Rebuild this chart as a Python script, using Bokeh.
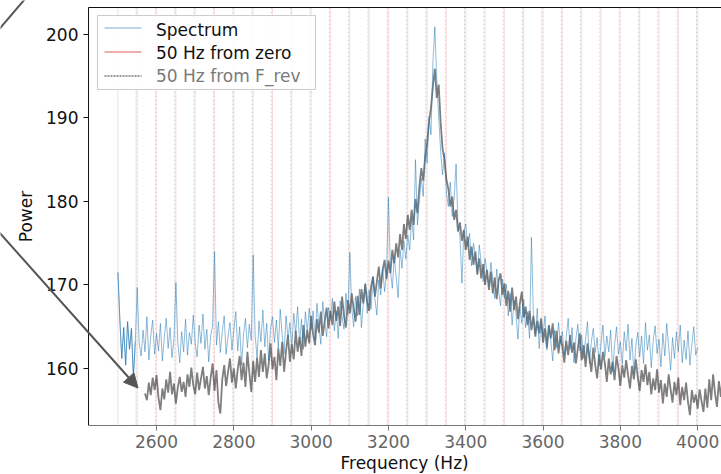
from bokeh.plotting import figure
from bokeh.models import (Range1d, LinearAxis, FixedTicker, Arrow, NormalHead,
                          Legend, LegendItem, Title)
from bokeh.embed import file_html
from bokeh.resources import INLINE

FONT = "DejaVu Sans"

# ---------------- data ----------------
spec_f0, spec_df = 2500, 5
spectrum = [
    171.5, 165.8, 161.2, 164.9, 160.4, 165.6, 162.3, 164.8, 159.0, 163.2,
    169.7, 163.0, 161.5, 164.6, 162.0, 166.2, 161.0, 163.9, 165.8, 161.7,
    164.2, 162.1, 165.4, 160.9, 163.7, 166.0, 162.4, 164.9, 161.3, 163.5,
    170.3, 163.1, 160.7, 164.4, 162.0, 165.9, 161.6, 164.3, 162.9, 166.4,
    163.0, 161.4, 165.2, 163.0, 166.5, 162.3, 164.7, 160.8, 163.9, 165.1,
    174.0, 162.8, 165.6, 161.9, 164.4, 166.3, 161.7, 163.9, 165.5, 162.2,
    164.6, 166.8, 162.1, 165.0, 160.4, 164.1, 166.0, 162.5, 165.3, 163.4,
    173.6, 164.0, 161.3, 165.7, 163.2, 167.0, 162.6, 165.4, 161.0, 164.8,
    166.2, 163.1, 165.8, 162.4, 167.1, 164.0, 161.8, 166.3, 163.6, 165.5,
    162.5, 166.6, 164.2, 167.4, 163.0, 165.9, 162.3, 166.8, 164.4, 167.2,
    164.6, 166.9, 163.4, 167.8, 165.1, 162.9, 168.0, 165.6, 163.8, 167.3,
    166.0, 168.4, 164.5, 166.9, 163.6, 168.1, 166.2, 164.7, 169.0, 166.4,
    173.9, 167.2, 165.0, 168.6, 166.3, 169.5, 164.9, 167.8, 170.2, 166.6,
    169.4, 167.1, 171.0, 168.3, 166.4, 170.6, 168.8, 172.0, 169.2, 171.4,
    180.5, 171.8, 169.6, 173.4, 170.9, 168.5, 174.2, 172.0, 175.3, 173.1,
    176.0, 174.2, 178.0, 175.4, 185.0, 177.2, 180.1, 182.8, 180.6, 187.5,
    184.6, 190.2, 188.0, 196.7, 200.9, 194.5, 190.1, 186.0, 183.2, 185.8,
    181.0, 179.4, 182.3, 178.2, 180.4, 184.5, 177.0, 175.8, 170.2, 176.4,
    177.3, 174.6, 176.2, 172.3, 175.0, 173.4, 171.2, 174.8, 172.6, 170.4,
    173.2, 171.5, 169.8, 172.7, 170.6, 168.4, 171.9, 169.3, 167.5, 170.7,
    168.4, 170.1, 166.3, 169.0, 165.2, 168.2, 166.6, 163.5, 167.4, 165.4,
    168.3, 164.9, 166.8, 163.6, 175.7, 166.2, 164.1, 167.2, 162.4, 165.6,
    164.0, 166.3, 162.2, 165.1, 163.4, 160.9, 164.6, 162.5, 165.5, 163.0,
    164.4, 161.6, 163.8, 166.0, 162.3, 164.9, 160.7, 163.6, 165.3, 162.1,
    164.0, 161.2, 163.5, 165.6, 160.6, 163.2, 164.8, 161.9, 163.7, 160.3,
    163.1, 165.2, 161.4, 163.9, 162.0, 164.6, 159.6, 162.8, 165.0, 161.7,
    163.2, 160.5, 164.4, 162.1, 165.3, 161.0, 163.6, 159.4, 162.7, 164.3,
    161.4, 163.9, 160.6, 165.5, 162.2, 164.0, 160.1, 163.3, 165.1, 161.8,
    163.5, 160.2, 164.2, 161.5, 165.4, 162.6, 159.8, 163.7, 161.2, 164.4,
    162.0, 165.2, 160.7, 163.4, 161.1, 164.5, 160.4, 162.9, 165.0, 161.6,
    162.5,
]

rev_f0, rev_df = 2570, 5
from_frev = [
    157.0, 156.2, 158.3, 156.8, 158.9, 157.4, 159.2, 156.5, 155.0, 157.6,
    156.3, 158.7, 157.1, 159.6, 156.9, 158.2, 155.8, 157.7, 159.0, 157.2,
    158.4, 156.6, 159.3, 157.8, 160.1, 158.0, 156.9, 159.5, 157.4, 158.8,
    160.2, 157.6, 159.1, 156.8, 158.9, 160.6, 157.3, 159.8, 155.9, 154.6,
    158.7, 160.4, 157.9, 159.6, 161.2, 158.3, 160.0, 157.6, 159.9, 161.5,
    158.6, 160.7, 157.8, 162.0, 159.5, 157.2, 160.9, 158.4, 161.3, 159.0,
    162.2, 159.6, 161.8, 158.8, 160.5, 163.0, 159.9, 161.4, 158.6, 162.4,
    160.3, 163.2, 159.6, 162.1, 164.0, 160.8, 162.9, 161.1, 164.5, 162.0,
    163.8, 161.5, 165.2, 162.6, 164.6, 163.0, 166.3, 164.1, 162.8, 165.9,
    164.3, 166.8, 163.9, 165.6, 167.3, 164.8, 166.9, 165.2, 168.0, 165.7,
    167.4, 165.1, 168.6, 166.3, 164.9, 168.2, 166.6, 169.0, 167.1, 165.6,
    168.7, 166.4, 169.5, 167.8, 170.1, 168.0, 166.9, 169.8, 171.0, 168.6,
    170.4, 172.2, 169.6, 171.8, 173.0, 170.7, 172.9, 171.4, 174.2, 172.6,
    175.0, 173.3, 176.1, 174.2, 177.3, 175.5, 178.4, 176.6, 179.0, 177.2,
    180.3, 178.6, 181.8, 184.0, 182.5, 185.3, 187.0, 189.6, 191.2, 193.8,
    195.9, 192.4, 194.0, 189.5, 186.3, 185.0, 182.6, 181.5, 179.4, 180.6,
    177.8, 179.0, 176.4, 177.5, 175.3, 176.6, 174.2, 175.8, 173.0, 174.6,
    172.4, 174.0, 171.3, 173.2, 170.8, 172.5, 170.0, 171.8, 169.4, 171.6,
    169.0, 170.9, 168.3, 170.5, 171.4, 168.8, 170.2, 167.5, 169.3, 166.8,
    169.7, 167.0, 168.6, 165.9, 167.8, 169.2, 166.1, 167.4, 165.2, 166.9,
    164.6, 166.3, 163.8, 165.7, 164.2, 166.0, 163.1, 164.8, 162.5, 165.2,
    163.6, 165.4, 162.2, 164.5, 161.8, 163.9, 162.6, 160.7, 163.3, 161.6,
    164.0, 161.9, 163.1, 160.6, 162.4, 164.2, 161.0, 162.8, 160.2, 163.0,
    161.3, 159.6, 162.5, 160.4, 158.8, 161.7, 159.9, 162.0, 160.6, 158.4,
    161.2, 159.3, 160.8, 158.6, 161.5, 160.0, 157.9, 160.4, 158.9, 161.0,
    159.2, 157.6, 160.3, 158.7, 161.1, 159.0, 157.3, 159.8, 158.4, 160.5,
    158.0, 159.6, 156.9, 158.8, 157.4, 159.9, 157.1, 158.6, 155.8, 158.2,
    156.6, 159.3, 157.5, 155.9, 158.4, 156.8, 158.9, 155.6, 157.8, 156.2,
    158.3, 156.0, 154.4, 157.4, 155.9, 156.9, 155.2, 157.5, 156.1, 154.8,
    157.6, 155.3, 158.7, 156.2, 159.3, 157.0, 155.4, 158.5, 156.6, 159.0,
]

harm_zero = [2500 + 50 * k for k in range(31)]      # 50 Hz multiples
f_rev_shift = -3
harm_rev = [h + f_rev_shift for h in harm_zero[1:]]  # 50 Hz grid from F_rev

x_ticks = [2600, 2800, 3000, 3200, 3400, 3600, 3800, 4000]
y_ticks = [160, 170, 180, 190, 200]

legend_labels = ["Spectrum", "50 Hz from zero", "50 Hz from F_rev"]

spec_f = [spec_f0 + spec_df * i for i in range(len(spectrum))]
rev_f = [rev_f0 + rev_df * i for i in range(len(from_frev))]

# ---------------- layout geometry ----------------
W, H = 721, 474
FB = 425                      # frame bottom (px); frame spans the full width/top
X0, X1 = 2196.2, 4061.7       # x range over px 0..721
Y0, Y1 = 153.17, 204.07       # y range over px 425..0


def fx(px):
    return X0 + px * (X1 - X0) / W


def fy(py):
    return Y1 - py * (Y1 - Y0) / FB


XL = fx(88)    # left spine
YT = fy(7)     # top spine

p = figure(width=W, height=H, x_range=Range1d(X0, X1), y_range=Range1d(Y0, Y1),
           output_backend="svg", toolbar_location=None,
           min_border_left=0, min_border_right=0, min_border_top=0,
           min_border_bottom=H - FB, y_axis_label="Power")
p.outline_line_color = None
p.grid.visible = False
p.background_fill_color = "white"
p.border_fill_color = "white"

FS = "17px"
for ax in (p.xaxis[0], p.yaxis[0]):
    ax.major_label_text_font = FONT
    ax.major_label_text_font_size = FS
    ax.axis_label_text_font = FONT
    ax.axis_label_text_font_size = FS
    ax.axis_label_text_font_style = "normal"
    ax.minor_tick_line_color = None
    ax.major_tick_in = 0
    ax.major_tick_out = 5
    ax.major_label_standoff = 5
xa, ya = p.xaxis[0], p.yaxis[0]
xa.ticker = FixedTicker(ticks=x_ticks)
ya.ticker = FixedTicker(ticks=y_ticks)
xa.bounds = (XL, X1)
xa.axis_line_color = "#777777"
xa.major_tick_line_color = "#777777"
xa.major_label_text_color = "#666666"
xa.major_label_standoff = 4
ya.fixed_location = XL
ya.bounds = (Y0, YT)
ya.axis_line_color = "#111111"
ya.major_tick_line_color = "#111111"
ya.major_label_text_color = "#111111"
ya.axis_label_text_color = "#111111"
ya.axis_label_standoff = 7

# x-axis title, centred under the visible part of the axes
xtitle = Title(text="Frequency (Hz)", align="left", offset=340, standoff=0,
               text_font=FONT, text_font_style="normal", text_color="#111111")
xtitle.text_font_size = FS
p.add_layout(xtitle, "below")

top_axis = LinearAxis(ticker=FixedTicker(ticks=[]), fixed_location=YT, bounds=(XL, X1),
                      major_tick_line_color=None, minor_tick_line_color=None,
                      major_label_text_font_size="0px", major_label_standoff=0,
                      axis_line_color="#111111")
p.add_layout(top_axis, "above")

# vertical harmonic lines
n0, n1 = len(harm_zero), len(harm_rev)
p.segment(x0=harm_zero, y0=[Y0] * n0, x1=harm_zero, y1=[YT] * n0,
          line_color="#d62728", line_alpha=0.16, line_width=1)
p.segment(x0=harm_rev, y0=[Y0] * n1, x1=harm_rev, y1=[YT] * n1,
          line_color="#7f7f7f", line_alpha=0.35, line_width=1, line_dash="2 2")

# curves
p.line(rev_f, from_frev, line_color="black", line_alpha=0.5, line_width=1.8)
p.line(spec_f, spectrum, line_color="#1f77b4", line_alpha=0.5, line_width=1)
p.line(spec_f[:10], spectrum[:10], line_color="#1f77b4", line_alpha=0.5, line_width=1)

# legend box and line samples (drawn as glyphs so they sit under the legend texts)
p.quad(left=[fx(97)], right=[fx(315)], top=[fy(15)], bottom=[fy(89)],
       fill_color="white", fill_alpha=0.9, line_color="#cccccc", line_width=1)
row_y = [27.5, 51.5, 75.5]
samples = [("#1f77b4", 0.6, "solid"), ("#d62728", 0.75, "solid"), ("black", 0.8, "2 1")]
for yc, (col, alpha, dash) in zip(row_y, samples):
    p.line([fx(104), fx(141)], [fy(yc), fy(yc)], line_color=col, line_alpha=alpha,
           line_width=1, line_dash=dash)

px_ = [X0 - 60, X0 - 50]
py_ = [Y0 - 5, Y0 - 5]
r_none = p.line(px_, py_, line_alpha=0)

common = dict(padding=4, spacing=3, glyph_width=39, glyph_height=20, label_height=20,
              label_standoff=15, label_text_font=FONT, label_text_font_size=FS,
              border_line_alpha=0, background_fill_alpha=0)
leg = Legend(items=[LegendItem(label=legend_labels[0], renderers=[r_none]),
                    LegendItem(label=legend_labels[1], renderers=[r_none]),
                    LegendItem(label=" ", renderers=[r_none])],
             location=(98, FB - 90), label_text_color="#111111", **common)
p.add_layout(leg)
leg2 = Legend(items=[LegendItem(label=legend_labels[2], renderers=[r_none])],
              location=(98, FB - 90), label_text_color="#7a7a7a", **common)
p.add_layout(leg2)

# annotation arrows
p.add_layout(Arrow(end=NormalHead(size=14, fill_color="#555555", line_color="#555555"),
                   x_start=fx(-10), y_start=fy(222.1), x_end=fx(137.5), y_end=fy(387.5),
                   line_color="#555555", line_width=2))
p.add_layout(Arrow(end=None, x_start=fx(-5), y_start=fy(33.1), x_end=fx(26), y_end=fy(-3.3),
                   line_color="#555555", line_width=2))

open("out.html", "w").write(file_html(p, INLINE))
